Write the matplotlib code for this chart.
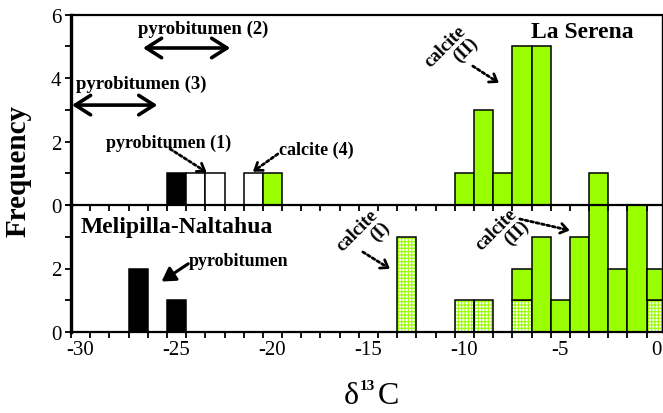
import matplotlib
matplotlib.use("Agg")
import matplotlib.pyplot as plt
import numpy as np

plt.rcParams["font.family"] = ["Liberation Serif", "DejaVu Serif"]
plt.rcParams["hatch.linewidth"] = 0.8
plt.rcParams["axes.unicode_minus"] = False

GREEN = "#99ff00"

# La Serena (top panel), delta13C bins of width 1
top_black_x = [-25]
top_black_n = [1]
top_white_x = [-24, -23, -21]
top_white_n = [1, 1, 1]
top_green_x = [-20, -10, -9, -8, -7, -6, -3]
top_green_n = [1, 1, 3, 1, 5, 5, 1]

# Melipilla-Naltahua (bottom panel)
bot_black_x = [-27, -25]
bot_black_n = [2, 1]
bot_hatch_x = [-13, -10, -9, -7, 0]
bot_hatch_n = [3, 1, 1, 1, 1]
bot_green_x = [-7, -6, -5, -4, -3, -2, -1, 0]
bot_green_n = [1, 3, 1, 3, 5, 2, 4, 1]

x_labels = [-30, -25, -20, -15, -10, -5, 0]


def dotted_arrow(ax, start, end):
    ax.annotate("", xy=end, xytext=start,
                arrowprops=dict(arrowstyle="-", linestyle=(0, (1, 1)), lw=2.0,
                                color="black", shrinkA=0, shrinkB=3))
    d = np.array(end) - np.array(start)
    tail = tuple(np.array(end) - 0.12 * d)
    ax.annotate("", xy=end, xytext=tail,
                arrowprops=dict(arrowstyle="->,head_length=0.35,head_width=0.25",
                                lw=2.0, color="black", shrinkA=0, shrinkB=0,
                                mutation_scale=14))


def style_axis(ax, ymax, ylabels):
    ax.set_xlim(-30.5, 0.3)
    ax.set_ylim(0, ymax)
    ax.set_xticks(x_labels)
    ax.set_xticks(np.arange(-30.5, 0, 1.0), minor=True)
    ax.set_yticks(range(0, ymax + 1))
    ax.set_yticklabels([str(v) if v in ylabels else "" for v in range(0, ymax + 1)])
    ax.tick_params(axis="x", which="major", length=0, labelsize=15, pad=6)
    ax.tick_params(axis="x", which="minor", length=4, width=1.3, direction="out")
    ax.tick_params(axis="y", length=4, width=1.3, direction="out", labelsize=15, pad=3)
    ax.spines["left"].set_linewidth(2.4)
    ax.spines["bottom"].set_linewidth(1.6)
    ax.spines["right"].set_linewidth(1.0)
    ax.spines["top"].set_linewidth(1.6)


fig = plt.figure(figsize=(6.63, 4.14), dpi=100)
ax_top = fig.add_axes([71 / 663, 1 - 206 / 414, 591 / 663, 190.3 / 414])
ax_bot = fig.add_axes([71 / 663, 1 - 333 / 414, 591 / 663, 127 / 414])

# top panel bars
ax_top.bar(top_black_x, top_black_n, width=1, color="black", edgecolor="black", lw=1.1)
ax_top.bar(top_white_x, top_white_n, width=1, color="white", edgecolor="black", lw=1.1)
ax_top.bar(top_green_x, top_green_n, width=1, color=GREEN, edgecolor="black", lw=1.1)

# bottom panel bars
ax_bot.bar(bot_black_x, bot_black_n, width=1, color="black", edgecolor="black", lw=1.1)
ax_bot.bar(bot_hatch_x, bot_hatch_n, width=1, color="white", edgecolor=GREEN,
           hatch="+++++", lw=0)
ax_bot.bar(bot_hatch_x, bot_hatch_n, width=1, fill=False, edgecolor="black", lw=1.1)
hatch_base = dict(zip(bot_hatch_x, bot_hatch_n))
bases = [hatch_base.get(x, 0) for x in bot_green_x]
ax_bot.bar(bot_green_x, bot_green_n, width=1, bottom=bases, color=GREEN,
           edgecolor="black", lw=1.1)

style_axis(ax_top, 6, [0, 2, 4, 6])
ax_top.tick_params(axis="x", which="major", labelbottom=False)
style_axis(ax_bot, 4, [0, 2])
ax_bot.spines["top"].set_visible(False)
ax_top.set_zorder(ax_bot.get_zorder() + 1)
ax_top.patch.set_alpha(0)

bold = dict(fontweight="bold", ha="center", va="center")

# top panel annotations
ax_top.text(-3.83, 5.46, "La Serena", fontsize=17, **bold)
ax_top.text(-23.63, 5.58, "pyrobitumen (2)", fontsize=13.5, **bold)
ax_top.annotate("", xy=(-22.2, 4.95), xytext=(-26.75, 4.95),
                arrowprops=dict(arrowstyle="<->,head_length=0.55,head_width=0.35",
                                lw=2.6, color="black", shrinkA=0, shrinkB=0,
                                mutation_scale=20))
ax_top.text(-26.83, 3.82, "pyrobitumen (3)", fontsize=13.5, **bold)
ax_top.annotate("", xy=(-26.0, 3.15), xytext=(-30.45, 3.15),
                arrowprops=dict(arrowstyle="<->,head_length=0.55,head_width=0.35",
                                lw=2.6, color="black", shrinkA=0, shrinkB=0,
                                mutation_scale=20))
ax_top.text(-25.4, 1.97, "pyrobitumen (1)", fontsize=13, **bold)
dotted_arrow(ax_top, (-25.34, 1.77), (-23.43, 1.03))
ax_top.text(-17.74, 1.77, "calcite (4)", fontsize=13, **bold)
dotted_arrow(ax_top, (-19.72, 1.61), (-21.02, 1.05))
ax_top.text(-10.7, 4.84, "calcite\n(II)", fontsize=13.5, rotation=45,
            multialignment="right", linespacing=1.0, **bold)
dotted_arrow(ax_top, (-9.56, 4.38), (-8.2, 3.85))

# bottom panel annotations
ax_bot.text(-24.98, 3.31, "Melipilla-Naltahua", fontsize=17, **bold)
ax_bot.text(-21.75, 2.24, "pyrobitumen", fontsize=13, **bold)
ax_bot.annotate("", xy=(-25.78, 1.59), xytext=(-24.39, 2.15),
                arrowprops=dict(arrowstyle="-|>,head_length=0.5,head_width=0.3",
                                lw=2.2, color="black", shrinkA=0, shrinkB=0,
                                mutation_scale=16))
ax_bot.text(-15.29, 3.04, "calcite\n(I)", fontsize=13.5, rotation=45,
            multialignment="right", linespacing=1.0, **bold)
dotted_arrow(ax_bot, (-15.29, 2.52), (-13.88, 1.99))
ax_bot.text(-8.0, 3.06, "calcite\n(II)", fontsize=13.5, rotation=45,
            multialignment="right", linespacing=1.0, **bold)
dotted_arrow(ax_bot, (-7.11, 3.56), (-4.51, 3.2))

# axis titles
fig.text(18 / 663, 1 - 171 / 414, "Frequency", rotation=90, fontsize=21,
         fontweight="bold", ha="center", va="center")
fig.text(351 / 663, 0.025, "\u03b4", fontsize=23, ha="center", va="baseline")
fig.text(367 / 663, 0.058, "13", fontsize=11, fontweight="bold", ha="center",
         va="baseline")
fig.text(388 / 663, 0.025, "C", fontsize=23, ha="center", va="baseline")

fig.savefig("out.png", dpi=100)
